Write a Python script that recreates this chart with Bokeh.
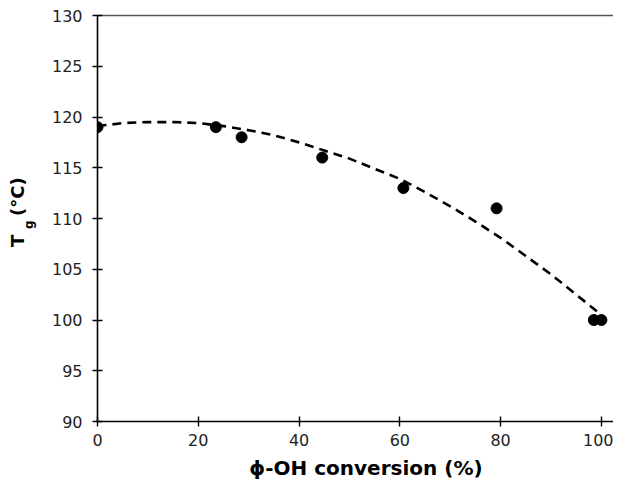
from bokeh.plotting import figure
from bokeh.models import Range1d, FixedTicker, LinearAxis
from bokeh.embed import file_html
from bokeh.resources import INLINE

# Measured data points: phi-OH conversion (%) vs Tg (degC)
conversion = [0, 23.5, 28.6, 44.6, 60.7, 79.2, 98.5, 100.0]
tg = [119, 119, 118, 116, 113, 111, 100, 100]

# Dashed trend curve
curve_x = [0, 5, 10, 15, 20, 25, 30, 35, 40, 45, 50, 55, 60, 65, 70, 75, 80, 85, 90, 95, 100]
curve_y = [119.1, 119.4, 119.5, 119.5, 119.4, 119.1, 118.7, 118.2, 117.5, 116.7, 115.9,
           114.9, 113.9, 112.6, 111.2, 109.7, 108.1, 106.3, 104.5, 102.5, 100.5]

x_ticks = [0, 20, 40, 60, 80, 100]
y_ticks = [90, 95, 100, 105, 110, 115, 120, 125, 130]

x_title = "\u03d5-OH conversion (%)"
y_title_main = "T"
y_title_sub = "g"
y_title_unit = "(\u00b0C)"

FONT = "DejaVu Sans"
NB = "\u00a0"

p = figure(width=613, height=482, output_backend="svg", toolbar_location=None,
           x_range=Range1d(0, 102.4), y_range=Range1d(90, 130),
           min_border_left=97, min_border_top=15, min_border_bottom=61, min_border_right=0)
p.background_fill_color = "white"
p.border_fill_color = "white"
p.outline_line_color = None
p.xgrid.visible = False
p.ygrid.visible = False

for ax, ticks in ((p.xaxis[0], x_ticks), (p.yaxis[0], y_ticks)):
    ax.ticker = FixedTicker(ticks=ticks)
    ax.axis_line_color = "black"
    ax.axis_line_width = 1.6
    ax.major_tick_line_color = "black"
    ax.major_tick_line_width = 1.4
    ax.major_tick_in = 5
    ax.major_tick_out = 5
    ax.minor_tick_line_color = None
    ax.major_label_text_font = FONT
    ax.major_label_text_font_size = "16px"
    ax.major_label_text_color = "#222222"

p.xaxis[0].major_label_standoff = 7
p.yaxis[0].major_label_standoff = 10

# x axis title (leading no-break spaces nudge it right, as in the original)
xa = p.xaxis[0]
xa.axis_label = NB * 3 + x_title
xa.axis_label_text_font = FONT
xa.axis_label_text_font_size = "20px"
xa.axis_label_text_font_style = "bold"
xa.axis_label_text_color = "black"
xa.axis_label_standoff = 7

# top frame line
top = LinearAxis(ticker=FixedTicker(ticks=[]), axis_line_color="#555555", axis_line_width=1.5,
                 major_tick_line_color=None, minor_tick_line_color=None)
p.add_layout(top, "above")


def title_axis(text, size, standoff):
    return LinearAxis(ticker=FixedTicker(ticks=[]), axis_line_color=None,
                      major_tick_line_color=None, minor_tick_line_color=None,
                      major_tick_in=0, major_tick_out=0, major_label_standoff=0,
                      axis_label=text, axis_label_text_font=FONT,
                      axis_label_text_font_size=size, axis_label_text_font_style="bold",
                      axis_label_text_color="black", axis_label_standoff=standoff)


# y axis title: subscript "g" sits nearer the axis, then "T  (°C)"
p.add_layout(title_axis(y_title_sub + NB * 3, "12px", 13), "left")
p.add_layout(title_axis(NB * 2 + y_title_main + NB * 3 + y_title_unit, "18px", -9), "left")

p.line(curve_x, curve_y, line_color="black", line_width=2.6, line_dash="9 6")
p.scatter(conversion, tg, size=11, fill_color="black", line_color="black")

open("out.html", "w").write(file_html(p, INLINE))
